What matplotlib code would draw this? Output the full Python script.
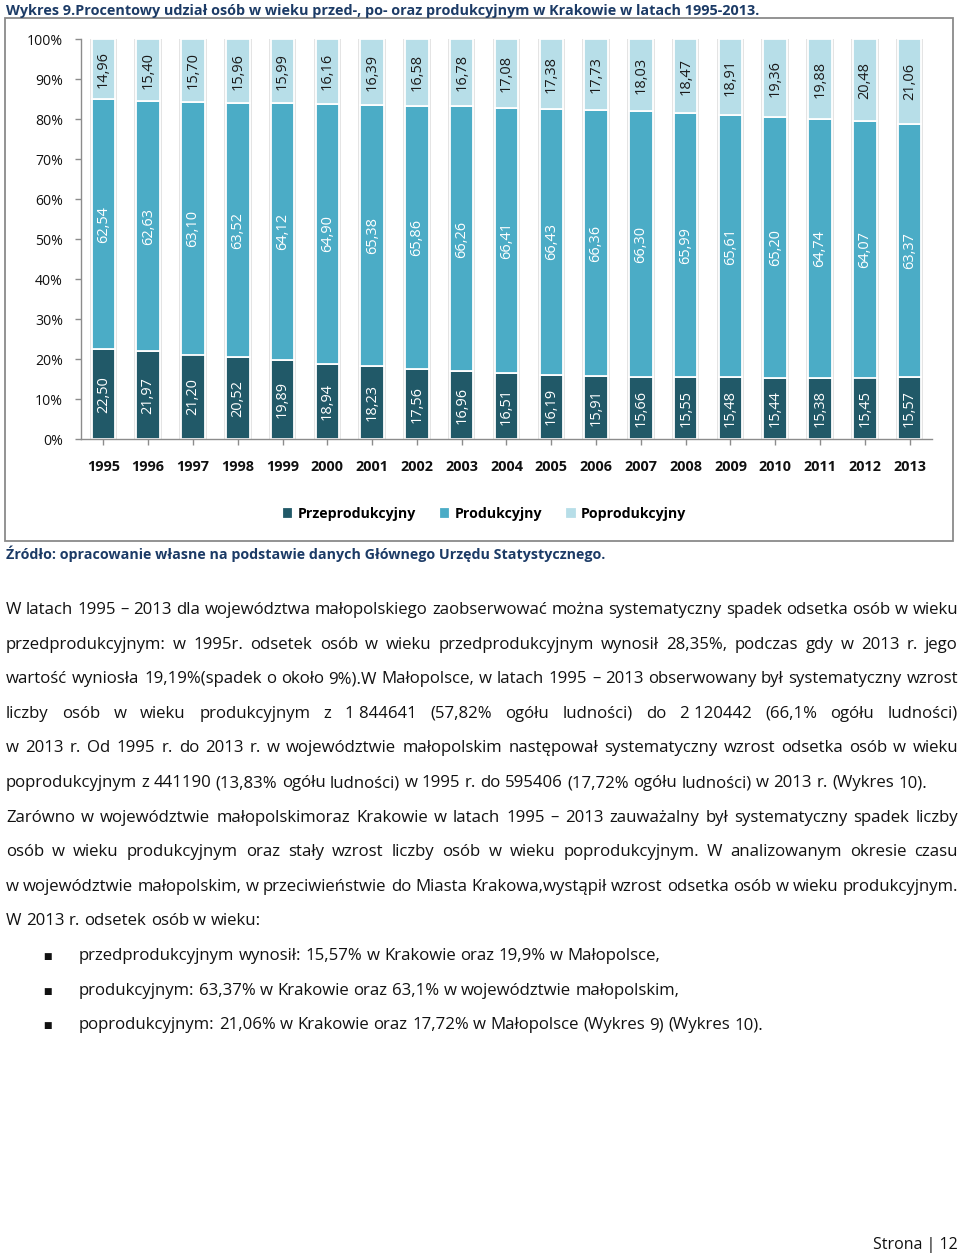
import matplotlib
matplotlib.use('Agg')
import matplotlib.pyplot as plt
from matplotlib.patches import Rectangle
import numpy as np

# ---------------- data ----------------
years = [str(y) for y in range(1995, 2014)]
przed = [22.50, 21.97, 21.20, 20.52, 19.89, 18.94, 18.23, 17.56, 16.96, 16.51,
         16.19, 15.91, 15.66, 15.55, 15.48, 15.44, 15.38, 15.45, 15.57]
prod = [62.54, 62.63, 63.10, 63.52, 64.12, 64.90, 65.38, 65.86, 66.26, 66.41,
        66.43, 66.36, 66.30, 65.99, 65.61, 65.20, 64.74, 64.07, 63.37]
popr = [14.96, 15.40, 15.70, 15.96, 15.99, 16.16, 16.39, 16.58, 16.78, 17.08,
        17.38, 17.73, 18.03, 18.47, 18.91, 19.36, 19.88, 20.48, 21.06]
series_names = ['Przeprodukcyjny', 'Produkcyjny', 'Poprodukcyjny']
ytick_vals = list(range(0, 101, 10))
ytick_labels = [f'{v}%' for v in ytick_vals]

title = ("Wykres 9.Procentowy udział osób w wieku przed-, po- oraz produkcyjnym "
         "w Krakowie w latach 1995-2013.")
source = "Źródło: opracowanie własne na podstawie danych Głównego Urzędu Statystycznego."
para_lines = [
    ("W latach 1995 – 2013 dla województwa małopolskiego zaobserwować można systematyczny spadek odsetka osób w wieku", True),
    ("przedprodukcyjnym: w 1995r. odsetek osób w wieku przedprodukcyjnym wynosił 28,35%, podczas gdy w 2013 r. jego", True),
    ("wartość wyniosła 19,19%(spadek o około 9%).W Małopolsce, w latach 1995 – 2013 obserwowany był systematyczny wzrost", True),
    ("liczby osób w wieku produkcyjnym z 1\u00a0844641 (57,82% ogółu ludności) do 2\u00a0120442 (66,1% ogółu ludności)", True),
    ("w 2013 r. Od 1995 r. do 2013 r. w województwie małopolskim następował systematyczny wzrost odsetka osób w wieku", True),
    ("poprodukcyjnym z 441190 (13,83% ogółu ludności) w 1995 r. do 595406 (17,72% ogółu ludności) w 2013 r. (Wykres 10).", False),
    ("Zarówno w województwie małopolskimoraz Krakowie w latach 1995 – 2013 zauważalny był systematyczny spadek liczby", True),
    ("osób w wieku produkcyjnym oraz stały wzrost liczby osób w wieku poprodukcyjnym. W analizowanym okresie czasu", True),
    ("w województwie małopolskim, w przeciwieństwie do Miasta Krakowa,wystąpił wzrost odsetka osób w wieku produkcyjnym.", True),
    ("W 2013 r. odsetek osób w wieku:", False),
]
bullets = [
    "przedprodukcyjnym wynosił: 15,57% w Krakowie oraz 19,9% w Małopolsce,",
    "produkcyjnym: 63,37% w Krakowie oraz 63,1% w województwie małopolskim,",
    "poprodukcyjnym: 21,06% w Krakowie oraz 17,72% w Małopolsce (Wykres 9) (Wykres 10).",
]
footer = "Strona | 12"

# ---------------- style ----------------
FAM = ['Open Sans', 'DejaVu Sans']
plt.rcParams['font.family'] = FAM
colors = ['#215968', '#4BACC6', '#B7DEE8']
label_colors = ['white', 'white', '#1a1a1a']
navy = '#1c3b66'
txt = '#111111'

W, H = 960, 1255
fig = plt.figure(figsize=(W / 100, H / 100), dpi=100)
fig.patch.set_facecolor('white')

def px_rect(l, t, r, b):
    return [l / W, 1 - b / H, (r - l) / W, (b - t) / H]

ov = fig.add_axes([0, 0, 1, 1])
ov.set_xlim(0, W)
ov.set_ylim(H, 0)
ov.axis('off')

renderer = fig.canvas.get_renderer()

def width_of(s, size, weight='normal'):
    t = ov.text(0, 0, s, fontsize=size, fontweight=weight, family=FAM)
    w = t.get_window_extent(renderer).width
    t.remove()
    return w

def fit_size(s, target, weight='normal', base=10.0):
    return base * target / width_of(s, base, weight)

def put(x, y, s, size, weight='normal', color=txt, ha='left'):
    ov.text(x, y, s, fontsize=size, fontweight=weight, color=color,
            family=FAM, ha=ha, va='baseline')

# frame around chart
ov.add_patch(Rectangle((5, 18), 948, 523, fill=False, ec='#8a8a8a', lw=1.3))

# title & source
put(6, 14.5, title, fit_size(title, 754, 'bold'), 'bold', navy)
put(6, 559, source, fit_size(source, 599, 'bold'), 'bold', navy)

# sizes fitted to widths measured on the reference
lab_size = fit_size('14,96', 37)
year_size = fit_size('1995', 33, 'bold')
ytick_size = fit_size('100%', 36)
leg_size = fit_size('Przeprodukcyjny', 118, 'bold')

# ---------------- chart ----------------
ax = fig.add_axes(px_rect(81, 39.3, 932, 439.3))
ax.set_facecolor('none')
x = np.arange(len(years))
totals = np.array(przed) + np.array(prod) + np.array(popr)
# soft shadow behind each column
ax.bar(x, totals, width=0.525 + 0.09, color='#e4e4e4', linewidth=0, zorder=1)
bottoms = np.zeros(len(years))
for vals, name, c, tc in zip([przed, prod, popr], series_names, colors, label_colors):
    bars = ax.bar(x, vals, width=0.525, bottom=bottoms, color=c,
                  edgecolor='white', linewidth=1.3, label=name, zorder=2)
    labels = [f'{v:.2f}'.replace('.', ',') for v in vals]
    ax.bar_label(bars, labels=labels, label_type='center', rotation=90,
                 color=tc, fontsize=lab_size, family=FAM)
    bottoms = bottoms + np.array(vals)

ax.set_xlim(-0.5, len(years) - 0.5)
ax.set_ylim(0, 100)
ax.set_yticks(ytick_vals)
ax.set_yticklabels(ytick_labels)
ax.set_xticks(x)
ax.set_xticklabels(years, fontweight='bold')
for s in ['top', 'right']:
    ax.spines[s].set_visible(False)
for s in ['left', 'bottom']:
    ax.spines[s].set_color('#8c8c8c')
    ax.spines[s].set_linewidth(1.0)
    ax.spines[s].set_zorder(3)
ax.tick_params(axis='y', length=4, width=1, color='#8c8c8c', pad=9,
               labelsize=ytick_size, labelcolor=txt)
ax.tick_params(axis='x', length=4, width=1, color='#8c8c8c', pad=11,
               labelsize=year_size, labelcolor=txt)

handles, labs = ax.get_legend_handles_labels()
leg = fig.legend(handles, labs, loc='center', bbox_to_anchor=(485 / W, 1 - 514 / H),
                 ncol=3, frameon=False, handlelength=0.55, handleheight=0.55,
                 handletextpad=0.45, columnspacing=1.75,
                 prop={'family': FAM, 'weight': 'bold', 'size': leg_size})
for h, c in zip(leg.legend_handles, colors):
    h.set_edgecolor(c)

# ---------------- body text ----------------
body_size = fit_size(para_lines[5][0], 919)
x0, x1 = 6, 958
base0 = 614.0
step = 34.6

def draw_line(text, xa, xb, yb, size, justify):
    words = text.split(' ')
    widths = [width_of(wd, size) for wd in words]
    if justify and len(words) > 1:
        gap = (xb - xa - sum(widths)) / (len(words) - 1)
    else:
        gap = width_of('a a', size) - width_of('aa', size)
    xx = xa
    for wd, wv in zip(words, widths):
        put(xx, yb, wd, size)
        xx += wv + gap

for i, (line, just) in enumerate(para_lines):
    draw_line(line, x0, x1, base0 + i * step, body_size, just)

for j, b in enumerate(bullets):
    yb = base0 + (len(para_lines) + j) * step
    put(48, yb - 1, '■', body_size * 0.55, ha='center')
    draw_line(b, 79, x1, yb, body_size, False)

put(958, 1249, footer, fit_size(footer, 85), ha='right')

fig.savefig('out.png', dpi=100, facecolor='white')
